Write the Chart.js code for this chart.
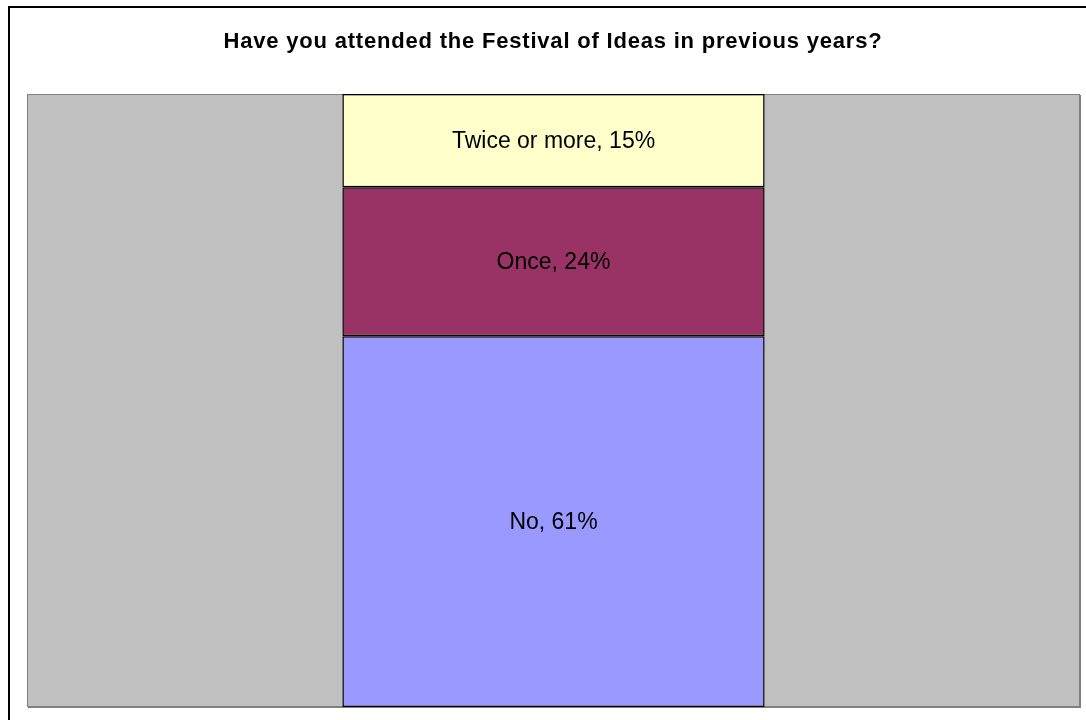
<!DOCTYPE html>
<html>
<head>
<meta charset="utf-8">
<script src="https://cdn.jsdelivr.net/npm/chart.js@4/dist/chart.umd.min.js"></script>
<style>
  html, body { margin: 0; padding: 0; background: #fff; }
  #wrap { width: 1086px; height: 720px; }
</style>
</head>
<body>
<div id="wrap"><canvas id="festChart" width="1086" height="720"></canvas></div>
<script>
// Data (shares; labels show them rounded)
const categories = ['Attendance'];
const answerLabels = ['No', 'Once', 'Twice or more'];
const answerValues = [60.5, 24.3, 15.2];
const answerColours = ['#9999FF', '#993366', '#FFFFCC'];
const chartTitle = 'Have you attended the Festival of Ideas in previous years?';

// grey plot area + outer frame + title
const backdrop = {
    id: 'backdrop',
    beforeDatasetsDraw(chart) {
        const { ctx, chartArea: a } = chart;
        ctx.save();
        ctx.fillStyle = '#C0C0C0';
        ctx.fillRect(a.left, a.top, a.right - a.left, a.bottom - a.top);
        ctx.strokeStyle = '#808080';
        ctx.lineWidth = 1;
        ctx.strokeRect(a.left + 0.5, a.top + 0.5, a.right - a.left - 1, a.bottom - a.top - 1);
        ctx.lineWidth = 2;
        ctx.beginPath();
        ctx.moveTo(a.right, a.top + 1);
        ctx.lineTo(a.right, a.bottom);
        ctx.lineTo(a.left + 1, a.bottom);
        ctx.stroke();
        ctx.restore();
    },
    afterDraw(chart) {
        const { ctx } = chart;
        ctx.save();
        ctx.strokeStyle = '#000';
        ctx.lineWidth = 2;
        ctx.strokeRect(9, 7, chart.width + 20, chart.height + 20);
        ctx.fillStyle = '#000';
        ctx.font = 'bold 22px "Liberation Sans", Arial, sans-serif';
        ctx.letterSpacing = '0.8px';
        ctx.textAlign = 'center';
        ctx.textBaseline = 'alphabetic';
        ctx.fillText(chartTitle, 553, 48);
        ctx.restore();
    }
};

// "Label, nn%" inside each segment
const segmentLabels = {
    id: 'segmentLabels',
    afterDatasetsDraw(chart) {
        const { ctx } = chart;
        ctx.save();
        ctx.fillStyle = '#000';
        ctx.font = '23px "Liberation Sans", Arial, sans-serif';
        ctx.textAlign = 'center';
        ctx.textBaseline = 'alphabetic';
        chart.data.datasets.forEach((ds, i) => {
            chart.getDatasetMeta(i).data.forEach(bar => {
                const mid = (bar.y + bar.base) / 2;
                ctx.fillText(ds.label + ', ' + Math.round(ds.data[0]) + '%', bar.x, mid + 7);
            });
        });
        ctx.restore();
    }
};

new Chart(document.getElementById('festChart'), {
    type: 'bar',
    data: {
        labels: categories,
        datasets: answerLabels.map((lab, i) => ({
            label: lab,
            data: [answerValues[i]],
            backgroundColor: answerColours[i],
            borderColor: '#000',
            borderWidth: 1.5,
            borderSkipped: false,
            categoryPercentage: 1,
            barPercentage: 0.401
        }))
    },
    options: {
        responsive: false,
        animation: false,
        layout: { padding: { left: 27, top: 94, right: 6, bottom: 13 } },
        scales: {
            x: { stacked: true, display: false },
            y: { stacked: true, display: false, min: 0, max: 100 }
        },
        plugins: {
            legend: { display: false },
            title: { display: false },
            tooltip: { enabled: false }
        }
    },
    plugins: [backdrop, segmentLabels]
});
</script>
</body>
</html>
